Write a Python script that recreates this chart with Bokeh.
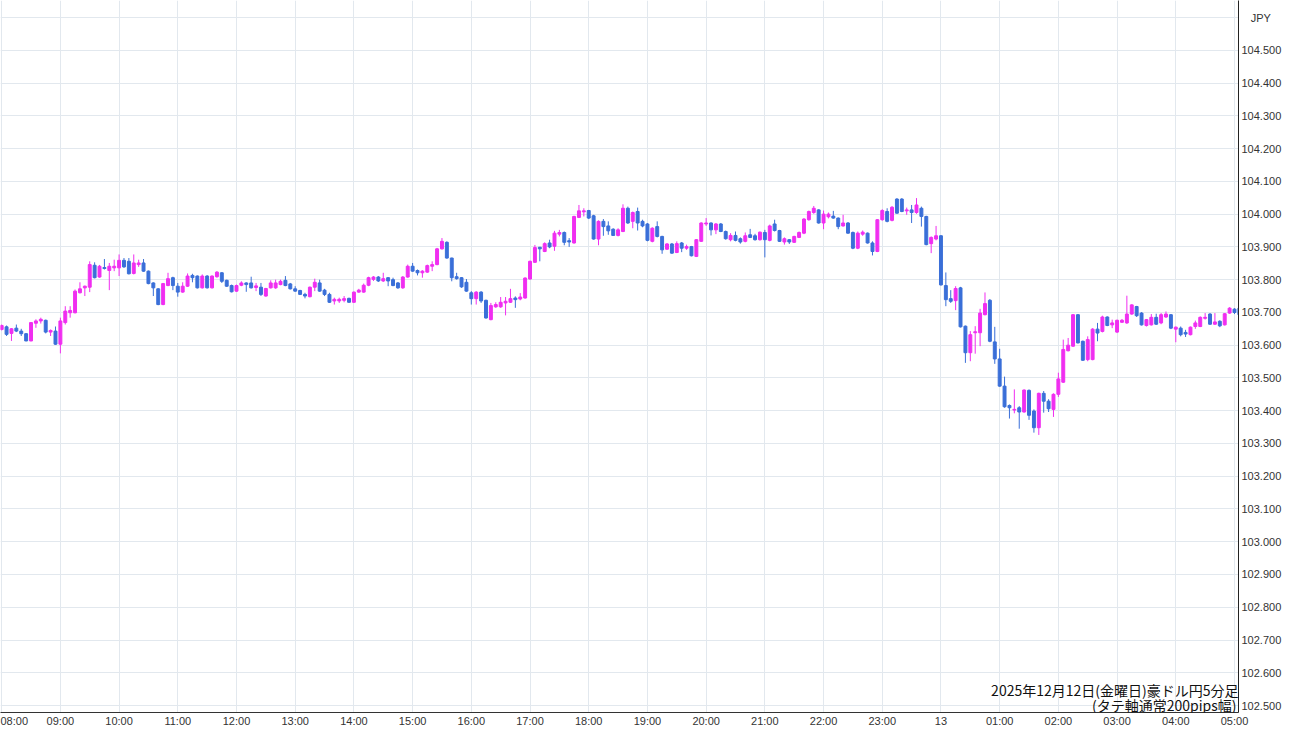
from bokeh.plotting import figure
from bokeh.models import ColumnDataSource, FixedTicker, PrintfTickFormatter, Label
from bokeh.embed import file_html
from bokeh.resources import INLINE

# ---- data: AUD/JPY 5-minute candles, 2025-12-12 08:00 -> 2025-12-13 05:05 ----
start_label = "2025-12-12 08:00"
bar_minutes = 5

opens = [
    103.648, 103.656, 103.636, 103.652, 103.643, 103.635, 103.613, 103.667, 103.674, 103.676, 103.640, 103.643,
    103.603, 103.669, 103.699, 103.699, 103.760, 103.775, 103.777, 103.844, 103.808, 103.837, 103.828, 103.836,
    103.836, 103.859, 103.856, 103.819, 103.846, 103.851, 103.826, 103.790, 103.772, 103.724, 103.782, 103.806,
    103.780, 103.762, 103.780, 103.813, 103.811, 103.775, 103.811, 103.775, 103.809, 103.821, 103.798, 103.782,
    103.765, 103.783, 103.790, 103.790, 103.776, 103.777, 103.750, 103.775, 103.775, 103.785, 103.798, 103.787,
    103.772, 103.767, 103.755, 103.748, 103.777, 103.790, 103.768, 103.755, 103.735, 103.735, 103.737, 103.743,
    103.731, 103.762, 103.762, 103.783, 103.801, 103.808, 103.796, 103.806, 103.800, 103.790, 103.775, 103.808,
    103.841, 103.828, 103.821, 103.823, 103.841, 103.846, 103.894, 103.914, 103.866, 103.809, 103.806, 103.792,
    103.760, 103.742, 103.762, 103.737, 103.678, 103.717, 103.717, 103.729, 103.731, 103.744, 103.741, 103.744,
    103.802, 103.853, 103.899, 103.886, 103.912, 103.902, 103.939, 103.944, 103.919, 103.912, 103.990, 104.007,
    104.011, 103.995, 103.924, 103.978, 103.964, 103.954, 103.935, 103.947, 104.018, 103.978, 104.008, 103.978,
    103.970, 103.917, 103.962, 103.932, 103.893, 103.909, 103.883, 103.912, 103.896, 103.901, 103.871, 103.917,
    103.970, 103.973, 103.952, 103.970, 103.947, 103.922, 103.935, 103.925, 103.917, 103.937, 103.934, 103.922,
    103.944, 103.920, 103.970, 103.950, 103.915, 103.922, 103.914, 103.929, 103.942, 103.983, 104.005, 104.013,
    103.973, 103.992, 103.994, 103.988, 103.964, 103.973, 103.944, 103.896, 103.939, 103.942, 103.912, 103.886,
    103.983, 104.008, 103.981, 104.046, 104.046, 104.010, 104.013, 104.005, 104.018, 103.993, 103.910, 103.924,
    103.934, 103.782, 103.742, 103.736, 103.775, 103.658, 103.577, 103.638, 103.638, 103.693, 103.737, 103.610,
    103.558, 103.475, 103.416, 103.402, 103.409, 103.396, 103.462, 103.399, 103.348, 103.453, 103.429, 103.404,
    103.450, 103.487, 103.583, 103.597, 103.693, 103.612, 103.556, 103.556, 103.649, 103.642, 103.686, 103.662,
    103.640, 103.670, 103.668, 103.695, 103.718, 103.698, 103.660, 103.662, 103.685, 103.668, 103.686, 103.693,
    103.649, 103.652, 103.639, 103.632, 103.657, 103.657, 103.682, 103.695, 103.664, 103.673, 103.662, 103.698,
    103.710, 103.713,
]
highs = [
    103.663, 103.660, 103.652, 103.663, 103.650, 103.637, 103.670, 103.679, 103.684, 103.678, 103.648, 103.657,
    103.684, 103.719, 103.719, 103.770, 103.792, 103.782, 103.856, 103.853, 103.845, 103.863, 103.851, 103.861,
    103.877, 103.866, 103.866, 103.877, 103.861, 103.863, 103.828, 103.792, 103.774, 103.790, 103.821, 103.809,
    103.790, 103.792, 103.819, 103.818, 103.813, 103.816, 103.814, 103.813, 103.826, 103.823, 103.800, 103.785,
    103.785, 103.795, 103.792, 103.809, 103.790, 103.790, 103.775, 103.798, 103.800, 103.800, 103.811, 103.790,
    103.780, 103.769, 103.760, 103.779, 103.803, 103.800, 103.772, 103.760, 103.745, 103.745, 103.750, 103.745,
    103.764, 103.772, 103.788, 103.809, 103.811, 103.811, 103.821, 103.808, 103.806, 103.793, 103.811, 103.846,
    103.851, 103.831, 103.829, 103.846, 103.856, 103.897, 103.927, 103.917, 103.867, 103.821, 103.808, 103.802,
    103.765, 103.765, 103.765, 103.739, 103.729, 103.731, 103.747, 103.747, 103.772, 103.749, 103.759, 103.807,
    103.858, 103.906, 103.900, 103.914, 103.922, 103.949, 103.952, 103.947, 103.927, 103.995, 104.028, 104.018,
    104.013, 103.998, 103.981, 103.985, 103.978, 103.957, 103.957, 104.030, 104.023, 104.008, 104.020, 103.983,
    103.973, 103.960, 103.978, 103.934, 103.912, 103.912, 103.917, 103.915, 103.907, 103.903, 103.924, 103.975,
    103.988, 103.975, 103.973, 103.973, 103.950, 103.942, 103.947, 103.929, 103.944, 103.955, 103.940, 103.947,
    103.952, 103.968, 103.983, 103.952, 103.929, 103.924, 103.934, 103.947, 103.988, 104.011, 104.025, 104.015,
    104.011, 104.005, 104.010, 103.990, 103.998, 103.976, 103.947, 103.947, 103.950, 103.944, 103.917, 103.985,
    104.015, 104.018, 104.025, 104.049, 104.049, 104.020, 104.028, 104.049, 104.023, 103.995, 103.932, 103.964,
    103.936, 103.822, 103.768, 103.780, 103.778, 103.660, 103.643, 103.658, 103.711, 103.761, 103.741, 103.656,
    103.589, 103.504, 103.419, 103.465, 103.414, 103.465, 103.465, 103.404, 103.455, 103.460, 103.435, 103.453,
    103.516, 103.617, 103.622, 103.695, 103.695, 103.614, 103.627, 103.652, 103.668, 103.690, 103.688, 103.678,
    103.678, 103.680, 103.751, 103.725, 103.720, 103.701, 103.680, 103.695, 103.696, 103.698, 103.703, 103.695,
    103.657, 103.657, 103.647, 103.657, 103.675, 103.688, 103.698, 103.698, 103.698, 103.676, 103.698, 103.716,
    103.713, 103.716,
]
lows = [
    103.645, 103.628, 103.613, 103.640, 103.628, 103.612, 103.612, 103.653, 103.666, 103.636, 103.628, 103.601,
    103.575, 103.663, 103.684, 103.697, 103.758, 103.750, 103.762, 103.804, 103.806, 103.831, 103.768, 103.826,
    103.811, 103.836, 103.816, 103.816, 103.839, 103.824, 103.786, 103.750, 103.722, 103.722, 103.780, 103.768,
    103.748, 103.760, 103.778, 103.792, 103.773, 103.773, 103.773, 103.773, 103.806, 103.790, 103.778, 103.761,
    103.763, 103.780, 103.763, 103.773, 103.765, 103.750, 103.748, 103.773, 103.772, 103.783, 103.780, 103.770,
    103.763, 103.753, 103.743, 103.746, 103.765, 103.763, 103.750, 103.729, 103.724, 103.729, 103.731, 103.729,
    103.729, 103.760, 103.760, 103.780, 103.796, 103.793, 103.793, 103.780, 103.780, 103.772, 103.772, 103.806,
    103.824, 103.813, 103.806, 103.821, 103.826, 103.844, 103.892, 103.864, 103.795, 103.800, 103.775, 103.763,
    103.724, 103.724, 103.729, 103.681, 103.676, 103.714, 103.714, 103.691, 103.729, 103.714, 103.737, 103.742,
    103.800, 103.851, 103.856, 103.884, 103.896, 103.888, 103.932, 103.905, 103.900, 103.910, 103.988, 103.993,
    103.985, 103.922, 103.905, 103.934, 103.937, 103.934, 103.932, 103.945, 103.970, 103.957, 103.950, 103.960,
    103.917, 103.914, 103.929, 103.879, 103.891, 103.879, 103.881, 103.884, 103.891, 103.871, 103.869, 103.915,
    103.964, 103.935, 103.939, 103.945, 103.922, 103.917, 103.917, 103.910, 103.914, 103.927, 103.919, 103.919,
    103.868, 103.917, 103.947, 103.915, 103.907, 103.909, 103.912, 103.927, 103.939, 103.980, 104.001, 103.971,
    103.954, 103.987, 103.986, 103.954, 103.962, 103.940, 103.893, 103.893, 103.934, 103.910, 103.874, 103.884,
    103.980, 103.975, 103.978, 104.001, 104.006, 103.998, 103.973, 104.001, 103.962, 103.905, 103.881, 103.920,
    103.782, 103.719, 103.729, 103.707, 103.654, 103.546, 103.551, 103.574, 103.597, 103.691, 103.609, 103.543,
    103.473, 103.409, 103.376, 103.392, 103.345, 103.394, 103.372, 103.333, 103.326, 103.394, 103.396, 103.381,
    103.442, 103.485, 103.581, 103.595, 103.605, 103.552, 103.551, 103.554, 103.612, 103.639, 103.658, 103.652,
    103.637, 103.668, 103.665, 103.693, 103.686, 103.660, 103.657, 103.660, 103.662, 103.664, 103.683, 103.649,
    103.609, 103.627, 103.625, 103.630, 103.650, 103.655, 103.678, 103.662, 103.662, 103.655, 103.660, 103.696,
    103.695, 103.690,
]
closes = [
    103.660, 103.633, 103.650, 103.643, 103.635, 103.613, 103.669, 103.674, 103.679, 103.640, 103.645, 103.603,
    103.674, 103.704, 103.706, 103.765, 103.772, 103.780, 103.846, 103.806, 103.841, 103.834, 103.841, 103.841,
    103.859, 103.839, 103.818, 103.851, 103.851, 103.826, 103.788, 103.775, 103.724, 103.788, 103.803, 103.782,
    103.762, 103.780, 103.811, 103.806, 103.775, 103.811, 103.775, 103.811, 103.823, 103.795, 103.780, 103.763,
    103.782, 103.790, 103.785, 103.775, 103.781, 103.755, 103.773, 103.790, 103.790, 103.795, 103.782, 103.772,
    103.765, 103.755, 103.750, 103.777, 103.792, 103.765, 103.755, 103.731, 103.740, 103.740, 103.742, 103.731,
    103.762, 103.768, 103.783, 103.806, 103.808, 103.796, 103.803, 103.796, 103.782, 103.775, 103.808, 103.841,
    103.826, 103.821, 103.826, 103.843, 103.846, 103.894, 103.917, 103.866, 103.806, 103.803, 103.778, 103.765,
    103.742, 103.762, 103.735, 103.683, 103.721, 103.724, 103.731, 103.734, 103.742, 103.739, 103.747, 103.805,
    103.856, 103.898, 103.894, 103.910, 103.900, 103.942, 103.944, 103.914, 103.915, 103.993, 104.010, 104.010,
    103.988, 103.924, 103.978, 103.962, 103.949, 103.935, 103.952, 104.018, 103.973, 104.005, 103.973, 103.964,
    103.920, 103.957, 103.932, 103.891, 103.909, 103.881, 103.910, 103.896, 103.901, 103.873, 103.922, 103.973,
    103.973, 103.952, 103.970, 103.947, 103.925, 103.935, 103.920, 103.915, 103.934, 103.929, 103.922, 103.945,
    103.922, 103.964, 103.950, 103.917, 103.925, 103.915, 103.932, 103.944, 103.985, 104.008, 104.018, 103.973,
    104.000, 104.000, 103.988, 103.962, 103.973, 103.942, 103.896, 103.942, 103.945, 103.912, 103.886, 103.983,
    104.011, 103.978, 104.021, 104.003, 104.008, 104.013, 104.005, 104.028, 103.993, 103.907, 103.929, 103.934,
    103.784, 103.739, 103.734, 103.773, 103.656, 103.577, 103.632, 103.641, 103.698, 103.727, 103.612, 103.558,
    103.475, 103.412, 103.409, 103.404, 103.396, 103.463, 103.386, 103.348, 103.453, 103.429, 103.406, 103.450,
    103.497, 103.587, 103.600, 103.693, 103.607, 103.554, 103.617, 103.649, 103.637, 103.686, 103.660, 103.668,
    103.676, 103.676, 103.695, 103.723, 103.690, 103.662, 103.678, 103.685, 103.664, 103.693, 103.695, 103.652,
    103.655, 103.632, 103.634, 103.655, 103.668, 103.685, 103.685, 103.664, 103.671, 103.659, 103.696, 103.713,
    103.700, 103.693,
]

hour_labels = ["08:00", "09:00", "10:00", "11:00", "12:00", "13:00", "14:00", "15:00", "16:00",
               "17:00", "18:00", "19:00", "20:00", "21:00", "22:00", "23:00", "13", "01:00",
               "02:00", "03:00", "04:00", "05:00"]
price_ticks = [102.5, 102.6, 102.7, 102.8, 102.9, 103.0, 103.1, 103.2, 103.3, 103.4, 103.5,
               103.6, 103.7, 103.8, 103.9, 104.0, 104.1, 104.2, 104.3, 104.4, 104.5, 104.6]
currency_label = "JPY"
title_lines = ["2025年12月12日(金曜日)豪ドル円5分足", "(タテ軸通常200pips幅)"]

# ---- style ----
UP = "#f02ef0"
DOWN = "#3a6fd8"
GRID = "#e2e8ee"
AXIS_FONT = "Liberation Sans"

minutes = [i * bar_minutes for i in range(len(opens))]
colors = [UP if c >= o else DOWN for o, c in zip(opens, closes)]
tops = [max(o, c) for o, c in zip(opens, closes)]
bottoms = [min(o, c) for o, c in zip(opens, closes)]

source = ColumnDataSource(dict(t=minutes, o=opens, h=highs, l=lows, c=closes,
                               top=tops, bottom=bottoms, color=colors))

p = figure(width=1284, height=729,
           x_range=(-1.2, 1264.1), y_range=(102.4787, 104.6522),
           y_axis_location="right", output_backend="svg", toolbar_location=None,
           min_border_left=0, min_border_top=0, min_border_right=44, min_border_bottom=15)
p.outline_line_color = None
p.background_fill_color = "white"
p.border_fill_color = "white"

p.segment(x0="t", y0="l", x1="t", y1="h", source=source, line_color="color", line_width=1)
p.vbar(x="t", width=3.0, top="top", bottom="bottom", source=source,
       fill_color="color", line_color="color", line_width=1)

# x axis
p.xaxis.ticker = FixedTicker(ticks=[60 * k for k in range(len(hour_labels))], minor_ticks=[])
p.xaxis.major_label_overrides = {60 * k: lab for k, lab in enumerate(hour_labels)}
p.xaxis.axis_line_color = "#333333"
p.xaxis.major_tick_line_color = None
p.xaxis.minor_tick_line_color = None
p.xaxis.major_tick_out = 0
p.xaxis.major_tick_in = 0
p.xaxis.major_label_standoff = 2
p.xaxis.major_label_text_font = AXIS_FONT
p.xaxis.major_label_text_font_size = "11px"
p.xaxis.major_label_text_color = "#333333"

# y axis (the topmost tick carries the currency name)
p.yaxis.ticker = FixedTicker(ticks=price_ticks, minor_ticks=[])
p.yaxis.formatter = PrintfTickFormatter(format="%.3f")
p.yaxis.major_label_overrides = {price_ticks[-1]: "\u00a0\u00a0\u00a0" + currency_label}
p.yaxis.axis_line_color = "#222222"
p.yaxis.major_tick_line_color = None
p.yaxis.minor_tick_line_color = None
p.yaxis.major_tick_out = 0
p.yaxis.major_tick_in = 0
p.yaxis.major_label_standoff = 3
p.yaxis.major_label_text_font = AXIS_FONT
p.yaxis.major_label_text_font_size = "11px"
p.yaxis.major_label_text_color = "#333333"

p.xgrid.grid_line_color = GRID
p.ygrid.grid_line_color = GRID

# caption, bottom right
p.add_layout(Label(x=1238, y=23, x_units="screen", y_units="screen", text=title_lines[0],
                   text_align="right", text_baseline="middle", text_font="Noto Sans CJK JP",
                   text_font_size="14px", text_color="#111111"))
p.add_layout(Label(x=1236, y=8, x_units="screen", y_units="screen", text=title_lines[1],
                   text_align="right", text_baseline="middle", text_font="Noto Sans CJK JP",
                   text_font_size="14px", text_color="#111111"))

open("out.html", "w").write(file_html(p, INLINE))
